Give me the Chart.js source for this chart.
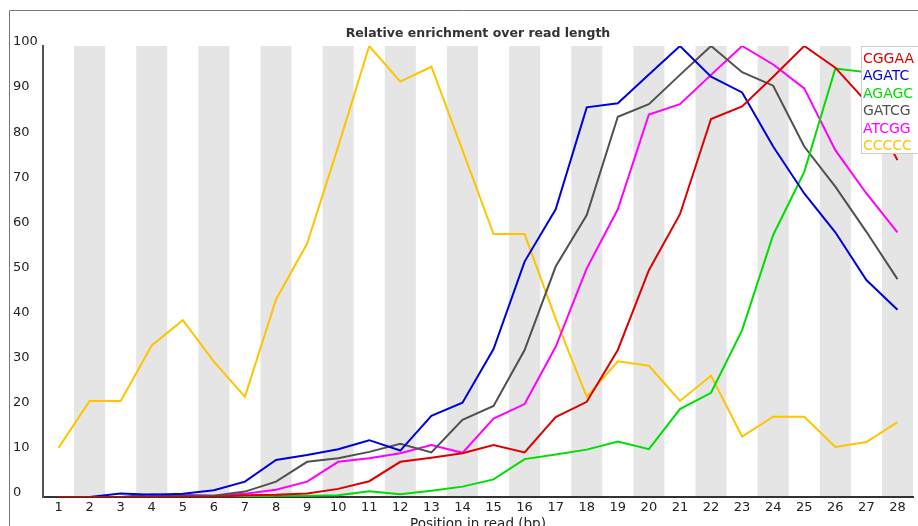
<!DOCTYPE html>
<html lang="en">
<head>
    <meta charset="UTF-8">
    <title>Relative enrichment over read length</title>
    <script src="https://cdn.jsdelivr.net/npm/chart.js"></script>
    <style>
        body { margin: 0; background: #fff; }
    </style>
</head>
<body>
    <canvas id="kmerChart" width="918" height="526"></canvas>
    <script>
        // k-mer enrichment per base position
        const positions = ['1', '2', '3', '4', '5', '6', '7', '8', '9', '10', '11', '12', '13', '14',
                           '15', '16', '17', '18', '19', '20', '21', '22', '23', '24', '25', '26', '27', '28'];
        const cggaa = [0, 0, 0, 0, 0, 0, 0.4, 0.5, 0.8, 1.8, 3.5, 7.8, 8.7, 9.7, 11.5, 9.9, 17.7, 21.1, 32.6, 50.3, 62.7, 83.8, 86.6, 93.2, 100, 95.2, 87.6, 74.7];
        const agatc = [0, 0, 0.8, 0.5, 0.7, 1.5, 3.4, 8.2, 9.3, 10.6, 12.6, 10.3, 18.0, 20.9, 32.8, 52.2, 63.8, 86.4, 87.3, 93.7, 100, 93.2, 89.7, 77.7, 67.3, 58.7, 48.1, 41.5];
        const agagc = [0, 0, 0, 0, 0, 0, 0, 0.3, 0.3, 0.4, 1.3, 0.6, 1.4, 2.3, 3.9, 8.4, 9.4, 10.5, 12.3, 10.6, 19.5, 23.1, 37.0, 58.1, 72.1, 95.0, 94.2, 100];
        const gatcg = [0, 0, 0, 0.6, 0.3, 0.3, 1.2, 3.4, 7.8, 8.6, 10.0, 11.8, 9.9, 17.1, 20.2, 32.6, 51.1, 62.5, 84.3, 87.1, 93.6, 100, 94.2, 91.2, 77.7, 68.8, 58.8, 48.3];
        const atcgg = [0, 0, 0, 0, 0.5, 0.3, 0.7, 1.6, 3.4, 7.8, 8.6, 9.7, 11.5, 9.8, 17.4, 20.6, 33.3, 50.7, 63.8, 84.8, 87.1, 93.6, 100, 95.9, 90.6, 76.9, 67.3, 58.7];
        const ccccc = [10.9, 21.3, 21.3, 33.6, 39.2, 30.0, 22.2, 43.8, 56.2, 77.7, 100, 92.1, 95.4, 76.9, 58.3, 58.3, 39.5, 22.2, 30.1, 29.1, 21.3, 26.9, 13.4, 17.8, 17.8, 11.1, 12.2, 16.6];

        const FONT = '"DejaVu Sans", Verdana, sans-serif';

        function series(label, data, color) {
            return {
                label: label,
                data: data,
                borderColor: color,
                backgroundColor: color,
                borderWidth: 2,
                pointRadius: 0,
                tension: 0,
                fill: false
            };
        }

        // outer frame of the panel
        const framePlugin = {
            id: 'frame',
            beforeDraw(chart) {
                const ctx = chart.ctx;
                ctx.save();
                ctx.strokeStyle = '#777';
                ctx.lineWidth = 1;
                ctx.beginPath();
                ctx.moveTo(9.5, chart.height);
                ctx.lineTo(9.5, 10.5);
                ctx.lineTo(chart.width, 10.5);
                ctx.stroke();
                ctx.restore();
            }
        };

        // alternating grey bands behind every second position
        const bandsPlugin = {
            id: 'bands',
            beforeDraw(chart) {
                const x = chart.scales.x;
                const area = chart.chartArea;
                const w = x.width / positions.length;
                const ctx = chart.ctx;
                ctx.save();
                ctx.fillStyle = '#e5e5e5';
                for (let i = 1; i < positions.length; i += 2) {
                    const cx = x.getPixelForValue(i);
                    ctx.fillRect(cx - w / 2, area.top, w, area.bottom - area.top);
                }
                ctx.restore();
            }
        };

        // boxed legend in the top right corner, drawn over the lines
        const boxLegendPlugin = {
            id: 'boxLegend',
            afterDraw(chart) {
                const ctx = chart.ctx;
                const sets = chart.data.datasets;
                const left = 861, top = 46;
                ctx.save();
                ctx.fillStyle = '#fff';
                ctx.fillRect(left, top, 62, 107);
                ctx.strokeStyle = '#ccc';
                ctx.lineWidth = 1;
                ctx.strokeRect(left + 0.5, top + 0.5, 62, 107);
                ctx.font = '14px ' + FONT;
                ctx.textAlign = 'left';
                ctx.textBaseline = 'middle';
                sets.forEach((ds, i) => {
                    ctx.fillStyle = ds.borderColor;
                    ctx.fillText(ds.label, left + 2, top + 13 + i * 17.5);
                });
                ctx.restore();
            }
        };

        new Chart(document.getElementById('kmerChart'), {
            type: 'line',
            data: {
                labels: positions,
                datasets: [
                    series('CGGAA', cggaa, '#dd0000'),
                    series('AGATC', agatc, '#0000dd'),
                    series('AGAGC', agagc, '#00dd00'),
                    series('GATCG', gatcg, '#505050'),
                    series('ATCGG', atcgg, '#ff00ff'),
                    series('CCCCC', ccccc, '#ffc400')
                ]
            },
            options: {
                responsive: false,
                animation: false,
                devicePixelRatio: 1,
                layout: { padding: { left: 13, right: 5, top: 24, bottom: 0 } },
                plugins: {
                    legend: { display: false },
                    tooltip: { enabled: false },
                    title: {
                        display: true,
                        fullSize: false,
                        text: 'Relative enrichment over read length',
                        color: '#333',
                        font: { family: FONT, size: 12.5, weight: 'bold' },
                        padding: { top: 2, bottom: 5 }
                    }
                },
                scales: {
                    x: {
                        type: 'category',
                        offset: true,
                        grid: { display: false, drawTicks: false },
                        border: { display: true, color: '#333', width: 2 },
                        ticks: {
                            color: '#222',
                            font: { family: FONT, size: 13 },
                            padding: 3,
                            maxRotation: 0,
                            autoSkip: false
                        },
                        title: {
                            display: true,
                            text: 'Position in read (bp)',
                            color: '#222',
                            font: { family: FONT, size: 13.5, lineHeight: 0.2 },
                            padding: { top: 0, bottom: 0 }
                        },
                        afterFit(scale) { scale.height = 29; }
                    },
                    y: {
                        min: 0,
                        max: 100,
                        grid: { display: false, drawTicks: false },
                        border: { display: true, color: '#555', width: 2 },
                        ticks: {
                            stepSize: 10,
                            color: '#222',
                            font: { family: FONT, size: 13 },
                            crossAlign: 'far',
                            labelOffset: -4,
                            padding: 0
                        },
                        afterFit(scale) { scale.width = 30; }
                    }
                }
            },
            plugins: [framePlugin, bandsPlugin, boxLegendPlugin]
        });
    </script>
</body>
</html>
